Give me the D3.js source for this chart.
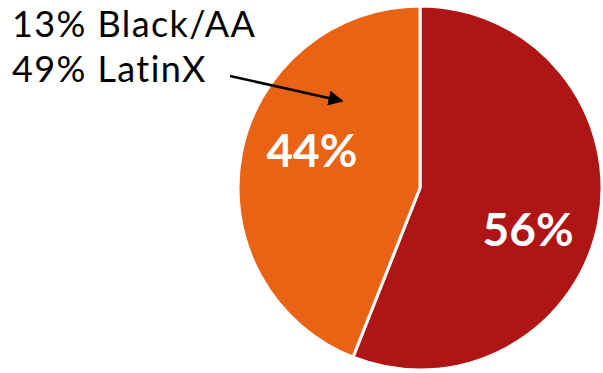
<!DOCTYPE html>
<html>
<head>
<meta charset="utf-8">
<script src="https://cdn.jsdelivr.net/npm/d3@7"></script>
<style>
  body { margin: 0; background: #fff; }
  svg { display: block; }
</style>
</head>
<body>
<svg id="chart" width="603" height="373"></svg>
<script>
// slice data, clockwise from 12 o'clock
const labels = ['56%', '44%'];
const values = [56, 44];
const colors = ['#B01515', '#E96315'];
const noteLines = ['13% Black/AA', '49% LatinX'];

let svg = d3.select('#chart');
let cx = 420, cy = 188, radius = 182;

let pie = d3.pie().sort(null).value(d => d)(values);
let arc = d3.arc().innerRadius(0).outerRadius(radius);
let labelArc = d3.arc().innerRadius(110).outerRadius(110);
let labelDy = [37, 0]; // nudge labels a bit like the original

let g = svg.append('g').attr('transform', `translate(${cx},${cy})`);

g.selectAll('path')
  .data(pie)
  .enter().append('path')
  .attr('d', arc)
  .attr('fill', (d, i) => colors[i])
  .attr('stroke', '#fff')
  .attr('stroke-width', 3)
  .attr('stroke-linejoin', 'round');

g.selectAll('text.pct')
  .data(pie)
  .enter().append('text')
  .attr('class', 'pct')
  .attr('x', d => labelArc.centroid(d)[0])
  .attr('y', (d, i) => labelArc.centroid(d)[1] + labelDy[i])
  .attr('text-anchor', 'middle')
  .style('font-family', 'Lato, sans-serif')
  .style('font-weight', 'bold')
  .style('font-size', '46px')
  .style('fill', '#fff')
  .text((d, i) => labels[i]);

// annotation text
svg.append('text')
  .style('font-family', 'Lato, sans-serif')
  .style('font-size', '36px')
  .style('letter-spacing', '1.4px')
  .style('fill', '#000')
  .selectAll('tspan')
  .data(noteLines)
  .enter().append('tspan')
  .attr('x', 12)
  .attr('y', (d, i) => 37 + i * 45)
  .text(d => d);

// arrow
svg.append('defs').append('marker')
  .attr('id', 'head')
  .attr('viewBox', '0 0 10 10')
  .attr('refX', 9).attr('refY', 5)
  .attr('markerWidth', 6).attr('markerHeight', 6)
  .attr('orient', 'auto')
  .append('path')
  .attr('d', 'M0,0 L10,5 L0,10 Z')
  .attr('fill', '#000');

svg.append('line')
  .attr('x1', 230).attr('y1', 76)
  .attr('x2', 342).attr('y2', 101)
  .attr('stroke', '#000')
  .attr('stroke-width', 2.5)
  .attr('marker-end', 'url(#head)');
</script>
</body>
</html>
